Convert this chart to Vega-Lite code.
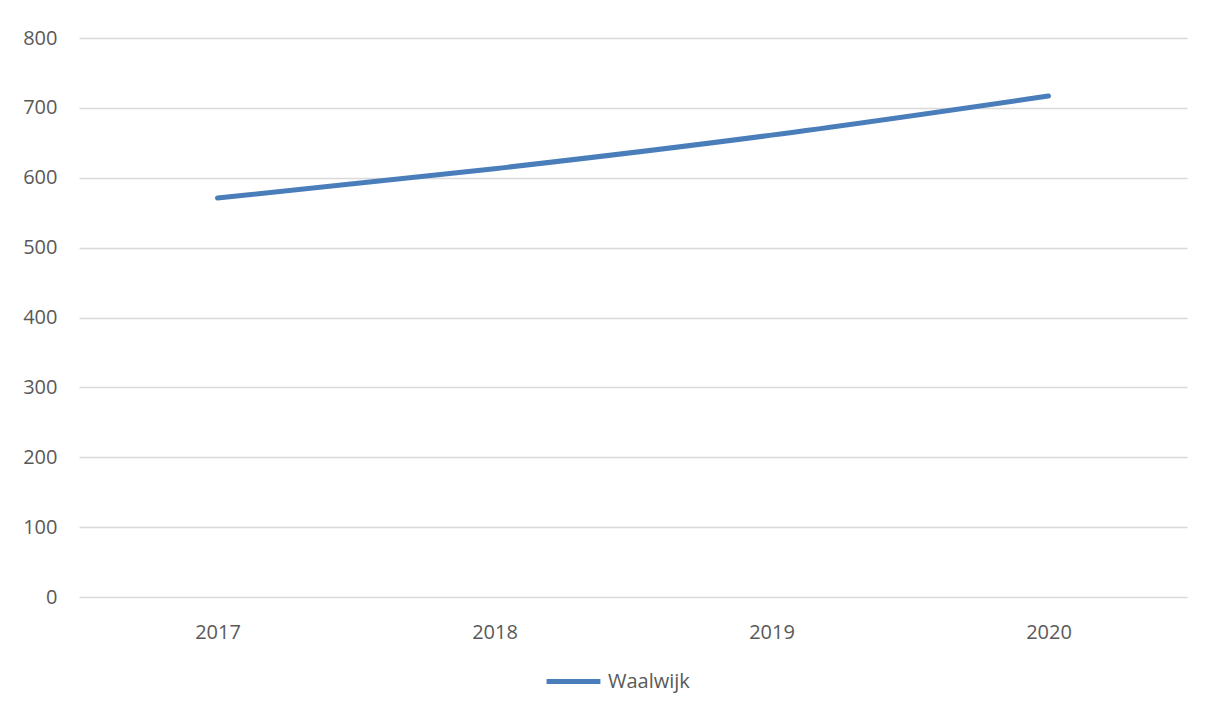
{
  "$schema": "https://vega.github.io/schema/vega-lite/v6.json",
  "width": 1108,
  "height": 559,
  "autosize": {"type": "none"},
  "padding": {"left": 79, "top": 38, "right": 26, "bottom": 111},
  "background": "white",
  "config": {
    "view": {"stroke": null},
    "font": "Open Sans"
  },
  "data": {
    "values": [
      {"jaar": "2017", "waarde": 571, "reeks": "Waalwijk"},
      {"jaar": "2018", "waarde": 613, "reeks": "Waalwijk"},
      {"jaar": "2019", "waarde": 661, "reeks": "Waalwijk"},
      {"jaar": "2020", "waarde": 717, "reeks": "Waalwijk"}
    ]
  },
  "mark": {"type": "line", "interpolate": "monotone", "strokeWidth": 5, "strokeCap": "round"},
  "encoding": {
    "x": {
      "field": "jaar",
      "type": "ordinal",
      "scale": {"type": "point", "padding": 0.5},
      "axis": {
        "title": null,
        "labelAngle": 0,
        "domain": false,
        "ticks": false,
        "grid": false,
        "labelFontSize": 20,
        "labelColor": "#595959",
        "labelPadding": 25
      }
    },
    "y": {
      "field": "waarde",
      "type": "quantitative",
      "scale": {"domain": [0, 800], "nice": false},
      "axis": {
        "title": null,
        "values": [0, 100, 200, 300, 400, 500, 600, 700, 800],
        "domain": false,
        "ticks": false,
        "gridColor": "#d9d9d9",
        "gridWidth": 1.5,
        "labelFontSize": 20,
        "labelColor": "#595959",
        "labelPadding": 22
      }
    },
    "color": {
      "field": "reeks",
      "type": "nominal",
      "scale": {"range": ["#4a7ebb"]},
      "legend": {
        "title": null,
        "orient": "none",
        "legendX": 465,
        "legendY": 614,
        "symbolType": "stroke",
        "symbolSize": 2900,
        "symbolStrokeWidth": 5,
        "labelFontSize": 20,
        "labelColor": "#595959",
        "labelOffset": 5,
        "padding": 0
      }
    }
  }
}
